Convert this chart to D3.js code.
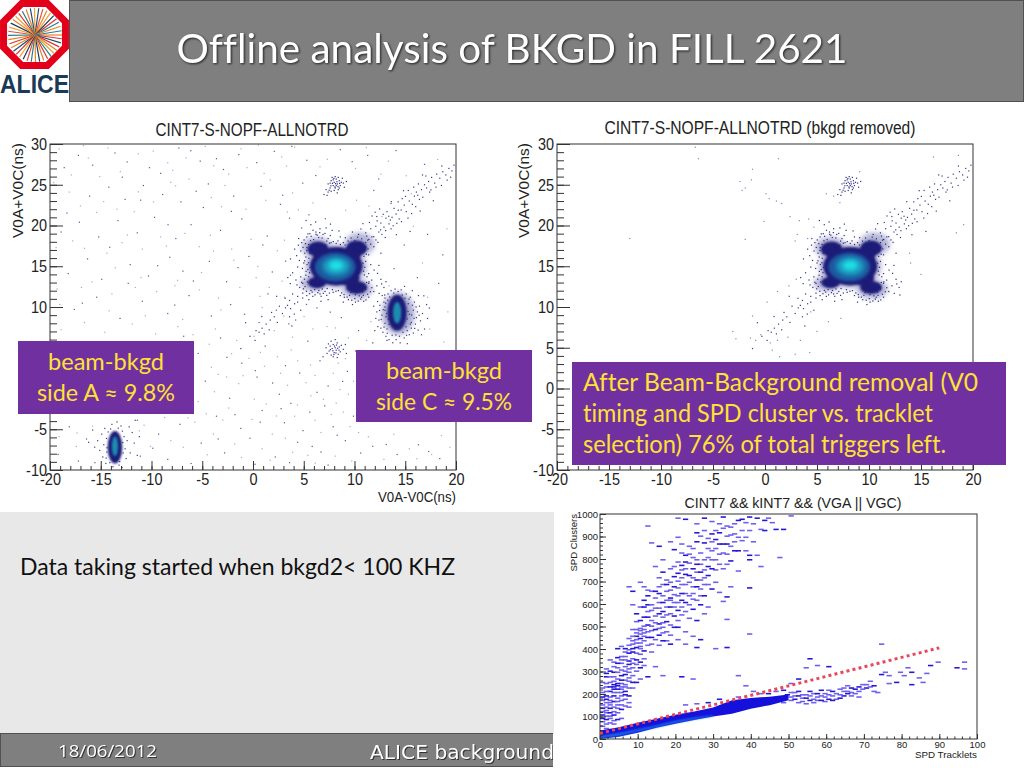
<!DOCTYPE html>
<html><head><meta charset="utf-8">
<script src="https://cdn.jsdelivr.net/npm/d3@7/dist/d3.min.js"></script>
<style>html,body{margin:0;padding:0;background:#fff;overflow:hidden}svg{display:block}
text{font-variant-ligatures:none}
.ax path,.ax line{stroke:#333}.ax text{fill:#222}
</style></head><body><svg id="s" width="1024" height="768"></svg>
<script>
const timingXTicks=[-20,-15,-10,-5,0,5,10,15,20];
const timingYTicks=[-10,-5,0,5,10,15,20,25,30];
const trackletTicks=[0,10,20,30,40,50,60,70,80,90,100];
const clusterTicks=[0,100,200,300,400,500,600,700,800,900,1000];
// density contours: [x, y, spread x, spread y]
const mainHalo=[[8.2,15,3,2.7],[6.3,17.3,1.5,1.3],[10.3,12.2,1.5,1.2],[6,12.9,1.3,1],[10.5,17.7,1.5,1.4]];
const mainDark=[[8.2,15,2.6,2.35],[6.4,17.1,1.05,.95],[10.2,12.4,1.05,.8],[6.3,13,.9,.7],[10.2,17.2,1.05,.95],[7.1,16.3,1.1,1],[9.4,13.6,1.1,1],[7,13.7,1,.9],[9.5,16.3,1.1,1]];
const mainBlue=[[8.1,14.9,2,1.75]];
const mainTeal=[[8.2,15,1.35,1.15]];
const mainCyan=[[8.2,15.1,.72,.6]];
const sideCDark=[[14.2,9.3,.95,2.2]];
const sideCHalo=[[14.3,9.2,1.6,2.6]];
const sideCTeal=[[14.2,9.3,.4,1.3]];
const sideADark=[[-13.6,-7.2,.72,2]];
const sideATeal=[[-13.6,-7.1,.3,1.2]];
const sparseDark=[[-18.6,27.1],[-17.2,28.6],[-15.8,27.4],[-13.6,28.9],[-12.4,27.8],[-10.2,27.1],[-9.1,26.4],[-7.3,29.5],[-5.2,27.9],[-3.6,28.2],[-1.4,28.7],[2.1,29.1],[5.3,28],[8.6,29.3],[11.3,28.6],[14.1,29.2],[16.9,27.5],[-16.1,23.6],[-14.2,24.7],[-12.6,23.2],[-10.8,24.9],[-8.9,23.8],[-7.1,22.9],[-5.6,24.2],[-4.4,25.1],[-1.9,23.6],[.8,24.8],[2.7,22.6],[4.9,25.2],[11.9,24.3],[13.6,22.7],[-18.9,19.2],[-17.1,20.4],[-15.2,18.6],[-13.3,20.6],[-11.4,19.1],[-9.7,21],[-7.6,18.4],[-6.1,20.1],[-3.2,19.4],[-1.1,20.8],[1.4,18.7],[3.6,20.9],[4.8,19.7],[14.9,17.6],[17.2,18.9],[18.7,16.4],[-18.2,14.1],[-16.3,15.9],[-14.9,13.4],[-12.1,15.2],[-10.3,13.8],[-8.2,16.1],[-6.9,14.4],[-4.3,15.6],[-2.6,13.1],[-.4,16.2],[1.9,14.3],[3.7,13.9],[13.9,14.7],[16.2,13.6],[18.3,12.9],[-17.6,9.7],[-15.4,11.2],[-13.1,8.6],[-10.9,10.7],[-8.4,9.2],[-6.3,11.4],[-4.1,8.9],[-2.2,10.3],[.6,8.1],[2.3,9.6],[4.2,8.4],[6.3,9.9],[8.7,8.7],[10.4,7.1],[-5.4,4.3],[-3.2,6.2],[-1.1,3.1],[1.2,5.2],[3.2,2.8],[5.4,5.8],[6.6,3.4],[10.1,4.6],[-4.7,.9],[-2.3,-1.2],[.4,1.4],[2.6,-.7],[4.6,1.9],[7.4,.3],[9.3,2.1],[-3.6,-3.4],[-1.2,-4.9],[.9,-2.7],[3.1,-4.2],[5.6,-2.9],[7.9,-4.7],[9.9,-3.4],[-18.1,-4.7],[-16.4,-6.2],[-11.4,-3.9],[-9.3,-5.6],[-7.2,-4.4],[-5.1,-6.7],[-2.8,-7.9],[-.3,-6.1],[2.2,-8.4],[4.4,-6.6],[6.7,-7.8],[9.1,-6.4],[11.8,-7.1],[14.2,-8.1],[16.3,-6.9],[18.4,-8.6],[-17.2,-8.9],[-11.1,-8.3],[-8.4,-8.7],[-6.1,-9.2],[.2,-9.3],[3.6,-9.1],[7.4,-9.4],
[-12.87,25.93],[-6.13,29.17],[-2.91,26.87],[.37,27.71],[3.83,29.71],[6.19,26.13],[9.77,27.83],[12.39,25.71],[-18.33,21.53],[-11.07,23.11],[-8.37,20.09],[-4.89,22.21],[-2.13,21.73],[2.93,23.71],[5.51,21.31],[7.13,20.83],[-14.11,17.33],[-9.39,15.07],[-5.87,13.19],[-1.47,14.83],[.97,17.61],[3.21,15.63],[-16.81,10.47],[-12.29,12.91],[-7.71,10.23],[-.83,9.11],[1.47,11.61],[3.53,7.93],[5.27,10.31],[7.61,9.37],[-6.83,6.41],[-2.57,3.83],[.23,2.19],[1.93,.67],[3.73,-1.83],[6.31,-.47],[8.83,.87],[-1.77,-3.21],[2.77,-2.47],[4.93,-5.17],[7.07,-2.13],[8.29,-5.73],[-9.87,-7.33],[-3.43,-6.19],[.71,-4.13],[5.83,-7.11],[10.61,-7.91],[13.13,-6.87],[17.31,-7.73],[-19.2,-8.1],[-15.57,-9.1]];
const sparseFaint=[[-19.1,29.4],[-17.9,26.2],[-16.7,29.8],[-15.1,26],[-14.3,29.5],[-11.3,28.8],[-8.4,27.7],[-6.6,28.3],[-4.7,29.7],[-2.4,26.3],[-.6,27.1],[1.1,26.4],[3.3,27.3],[4.1,29.6],[6.6,27.2],[10.1,27],[12.6,26.3],[15.1,26.1],[18.2,28.1],[-18.1,24.1],[-17,22.4],[-15.4,21.6],[-13.4,22],[-11.7,21.7],[-9.8,22.9],[-8.1,25.3],[-6.3,25.7],[-3.1,22.3],[-.7,22],[1.7,25.6],[3.9,24],[10.2,23.1],[12.7,21.1],[15.6,23.9],[-19.4,17.3],[-16.6,17.2],[-14.4,16.6],[-12.9,17.9],[-10.9,17.1],[-9.1,18.6],[-5.3,17.4],[-4.2,18.8],[-2.1,17.1],[-.2,18.3],[2.4,16.9],[3.1,18.2],[15.8,19.9],[16.7,15.4],[19.1,19.6],[-19.3,12.2],[-16.9,12.4],[-13.9,11.6],[-11.6,12.4],[-9.5,11.9],[-7.7,12.6],[-5.3,12.1],[-3.4,11.1],[-1.3,12.4],[.7,11.3],[1.6,12.4],[3.1,11.2],[13.4,12.6],[17.2,11.2],[19.2,9.4],[-18.9,7.2],[-16.6,8.1],[-14.6,6.9],[-11.9,7.9],[-9.6,6.7],[-7.4,7.6],[-5.9,6.6],[-3.7,7.3],[-1.6,5.9],[.1,6.4],[2.1,7.1],[3.9,6.3],[5.9,7.3],[7.3,7.6],[9.4,6.2],[11.2,5.9],[17.4,7.3],[18.8,5.7],[-4.1,2.6],[-2.6,1.4],[-.4,3.7],[2.4,3.9],[4.4,3.4],[6.1,1.6],[8.4,3.1],[9.9,.9],[-5.4,-1.6],[-3.8,-.4],[-1.4,.6],[1.3,-1.9],[3.4,.4],[5.7,-.9],[8.2,-1.8],[9.4,-.7],[-4.6,-3.1],[-2.4,-2.4],[-.1,-3.8],[1.9,-5.6],[4.1,-3.4],[6.7,-5.4],[8.9,-2.9],[-19.1,-5.9],[-17.4,-7.1],[-15.8,-4.6],[-11.2,-5.2],[-10.1,-7.1],[-8.1,-6.4],[-6.4,-3.6],[-3.9,-5.6],[-1.8,-6.8],[.9,-7.4],[3.2,-6.1],[5.4,-8.2],[8.1,-8.3],[10.4,-5.4],[12.9,-8.7],[15.4,-7.4],[17.6,-8.1],[19.4,-7.2],
[-16.23,28.27],[-13.07,26.61],[-9.83,29.13],[-7.91,26.77],[-3.87,27.33],[-1.17,29.41],[.53,29.87],[2.83,28.41],[7.33,28.13],[11.17,29.57],[13.33,27.89],[-19.63,25.27],[-14.71,22.93],[-11.29,24.13],[-7.63,24.87],[-4.11,23.43],[-2.77,24.91],[1.27,23.09],[3.39,21.67],[5.91,22.77],[9.13,21.87],[11.43,22.37],[-17.77,18.11],[-12.37,18.83],[-8.53,17.47],[-6.71,19.03],[-3.89,16.87],[.47,14.97],[2.87,13.17],[4.47,21.93],[-15.87,13.07],[-13.57,14.81],[-11.03,13.61],[-7.43,13.27],[-5.07,14.23],[-1.89,15.73],[.31,13.61],[-19.03,10.31],[-14.17,9.53],[-10.61,8.93],[-6.93,8.47],[-3.17,9.63],[.91,9.93],[3.03,8.89],[5.03,8.83],[8.13,7.43],[11.61,8.21],[12.03,3.4],[-7.13,4.33],[-4.31,5.43],[-2.11,4.27],[.73,4.43],[3.77,4.73],[5.67,2.87],[7.91,1.87],[9.11,3.67],[-6.29,1.93],[-3.43,1.73],[-.97,1.57],[1.13,2.73],[2.71,1.87],[5.23,.71],[6.93,-1.33],[8.57,-.13],[-5.73,-4.13],[-2.97,-3.87],[.13,-1.31],[2.31,-3.37],[4.37,-2.03],[6.11,-3.91],[7.71,-3.19],[9.57,-4.67],[-17.33,-5.47],[-10.73,-4.51],[-8.71,-3.57],[-6.87,-7.21],[-4.51,-8.13],[-1.13,-8.47],[1.69,-8.81],[3.91,-7.83],[6.13,-9.17],[9.73,-8.91],[11.37,-5.93],[13.87,-5.61],[16.13,-8.63],[18.57,-5.77]];
const mainFringe=[[4.8,17.9],[5.1,16.6],[5,15.4],[5.3,18.6],[5.6,19],[6.2,19.2],[6.9,18.9],[7.4,18.4],[7.7,17.9],[8.2,17.8],[8.9,17.9],[9.1,18.5],[4.7,13.7],[4.6,12.4],[4.9,11.7],[5.3,11.4],[5.9,11.3],[6.6,11.6],[7.1,11.9],[7.9,11.8],[8.6,11.4],[9,11.2],[9.4,10.9],[10.1,10.6],[10.9,10.7],[11.4,11.2],[11.9,11.9],[12.2,12.6],[11.7,13.3],[11.4,14.1],[11.6,15.2],[11.4,16.4],[11.9,17.4],[5.4,14.6],[5.2,13.9],[4.4,14.9],[4.3,16.3],[4.5,18.4],[6.6,19.6],[5.7,20.1],[7.8,19.4],[4.9,12.9],[10.7,11.2],[9.8,10.3],[11.1,12.2],[11.4,12.9],[10.9,14.4],[11.1,15.6],[11,16.9],[10.4,18.9],[11.2,18.7],[9.8,19.2],[8.6,18.6],[7.2,19.7],[4.4,11.3],[3.9,11.6],[3.6,10.8],[3.4,10.2],[4.1,10.4],[3.9,14.2],[3.7,15.9],[4.1,17.1],[12.6,13.4],[12.9,12.4],[13.1,13.1],[12.4,15.1],[12.6,16.6],[5.5,10.9],[6.7,10.7],[7.4,10.9],[8.9,10.6],
[4.93,17.31],[5.17,17.77],[5.03,18.23],[5.29,16.91],[5.41,18.97],[5.73,18.67],[5.91,19.41],[6.33,18.81],[6.57,19.13],[6.81,18.47],[7.09,19.03],[7.27,18.09],[7.53,17.83],[7.19,17.57],[7.61,18.77],[5.21,16.13],[5.09,15.67],[5.33,15.21],[4.87,14.73],[5.23,14.37],[5.07,13.41],[5.37,13.07],[4.79,13.03],[5.13,12.51],[4.97,12.23],[5.27,11.93],[5.57,11.63],[5.83,11.83],[6.11,11.49],[6.39,11.77],[6.71,11.31],[6.93,11.67],[7.27,11.43],[7.53,11.71],[7.83,12.13],[8.17,11.93],[8.41,12.01],[8.73,11.73],[8.97,11.53],[9.27,11.21],[9.51,11.43],[9.73,10.83],[10.03,11.03],[10.37,10.73],[10.61,10.97],[10.87,11.43],[11.13,10.87],[11.29,11.57],[11.57,11.87],[11.71,12.37],[11.43,13.09],[11.23,13.71],[10.97,13.93],[11.01,14.87],[10.83,15.37],[10.93,16.21],[11.17,16.47],[11.33,17.13],[11.59,17.71],[11.41,18.29],[11.11,17.91],[10.71,18.37],[10.31,18.57],[10.03,18.13],[9.67,18.47],[9.37,18.09],[9.07,17.61],[8.61,17.67],[8.37,18.11],[7.91,18.03],[6.47,18.53],[6.21,18.91],[5.97,18.27],[5.67,18.13],[5.49,17.67],[5.31,17.29],[5.61,16.61],[5.51,15.97],[5.47,15.43],[5.63,14.87],[5.57,14.21],[5.49,13.71],[5.71,12.03],[6.07,12.13],[6.49,12.03],[6.83,12.21],[7.31,12.27],[9.63,11.77],[10.09,11.51],[10.47,11.37],[10.81,11.83],[11.03,12.41],[11.19,13.01],[11.09,17.33],[11.71,18.61],[12.11,18.23],[12.31,17.93],[4.57,15.71],[4.71,16.87],[4.47,17.59],[4.23,13.31],[4.33,12.71],[12.43,11.67],[12.67,12.83],[6.17,20.43],[5.23,20.61],[7.63,20.17],[8.47,19.33],[3.67,12.87],[3.43,13.61],[12.97,11.47],[11.93,14.53],[12.27,14.13]];
const diagonalUp=[[11.1,19.1],[11.6,19.6],[11.3,18.2],[12.1,19.9],[12.4,19.2],[12.6,20.3],[13.1,20.9],[12.9,19.8],[13.4,20.2],[13.7,21],[12.7,18.9],[13.6,19.6],[14.1,21.4],[14.4,20.8],[13.9,22.1],[14.6,21.9],[14.9,22.5],[15.1,21.7],[15.4,23],[14.7,23.3],[15.7,22.6],[15.9,23.6],[16.1,24.1],[16.4,23.2],[16.6,24.4],[16.9,25],[16.3,25.1],[17.1,24.6],[17.3,25.4],[17.6,25.9],[17.9,25.2],[18.1,26.3],[18.4,25.8],[18.7,26.6],[19,26.2],[19.3,27],[19.6,26.7],[19.8,27.4],[17.4,24.1],[15.3,24.3],[13.2,21.7],[12.2,21.1],[14.3,22.9],[16.7,26.2],[18.6,27.3],
[11.47,20.37],[11.89,18.63],[12.23,20.57],[12.57,19.47],[12.83,21.37],[13.07,19.37],[13.37,21.13],[13.53,20.67],[13.81,19.97],[14.17,20.27],[14.31,21.87],[14.63,20.47],[13.03,18.53],[12.03,21.63],[15.27,20.91],[15.63,21.47],[15.03,23.57],[16.03,22.31],[16.23,23.71],[16.73,23.47],[15.83,24.71],[17.03,26.07],[17.53,24.37],[18.03,24.71],[18.57,24.91],[19.13,25.57],[19.47,25.93],[14.83,24.27],[13.63,22.93],[12.47,22.03],[10.83,20.23],[10.63,19.57],[11.73,21.17],[16.47,21.77],[17.77,23.03],[15.47,19.27],[14.13,18.87]];
const diagonalDown=[[4.9,11.1],[4.4,10.6],[3.7,9.8],[3.2,9.9],[2.9,9.2],[2.6,10.1],[2.1,8.8],[2.4,8.1],[1.7,8.4],[1.3,7.9],[1.6,7.2],[.9,7.4],[.6,6.9],[1.1,6.7],[.3,7.1],[3.6,8.8],[4.7,9.6],[.2,5.9],[-.3,6.4],[-1.2,4.9],[1.83,9.33],[3.17,11.07],[2.33,11.31],[.87,8.83],[-.73,8.07],[4.07,9.13],[3.83,7.67]];
const clumpTop=[[7.4,25.1],[7.6,24.6],[7.7,25.5],[7.9,24.9],[8,25.3],[8.1,24.6],[8.2,25.7],[8.3,25.1],[8.4,24.4],[8.5,25.5],[8.6,24.9],[8.7,25.3],[7.8,25.9],[8.1,26],[8.4,25.9],[8.9,25.2],[9,24.7],[7.2,24.4],[7.4,24.1],[7.7,24.2],[8,24.3],[8.8,25.8],[9.2,25.4],[7,23.8],[7.3,23.7],[8.3,24],[7.9,25.6],[8.2,24.9],[8.5,24.6],[7.6,25.2],[7.83,25.17],[8.07,24.73],[8.27,25.37],[8.13,25.13],[7.97,25.77],[8.37,24.77],[7.67,24.87],[8.53,25.17],[7.51,24.33]];
const clumpBottom=[[7.5,4.6],[7.6,5.2],[7.7,4.1],[7.8,4.9],[7.9,5.4],[8,4.4],[8.1,5],[8.2,4.7],[8.3,5.6],[8.4,4.2],[8.5,5.1],[8.6,4.5],[8.7,5.3],[8.9,4.8],[7.3,4.3],[7.2,5],[7.9,3.9],[8.3,3.8],[8.1,6],[7.7,5.8],[9.1,5.4],[9.2,4.3],[6.9,3.9],[7.87,4.63],[8.03,5.21],[8.17,4.37],[8.33,4.93],[7.63,4.77],[8.47,4.71],[7.97,4.17],[8.23,5.33],[7.43,5.47]];
const sideCFringe=[[12.2,9.4],[12.4,8.4],[12.5,10.2],[12.6,7.4],[12.7,9],[12.8,6.9],[12.9,10.6],[13,8],[13,11.1],[13.1,6.4],[12.3,7.6],[12.1,8.6],[13.2,5.9],[13.3,11.6],[13.6,12],[13.4,6],[14,12.2],[14.3,11.9],[14.6,12.1],[14.1,6],[14.5,5.6],[14.9,6.2],[15.2,5.5],[15.4,6.6],[15.6,7.4],[15.8,6.8],[15.6,8.1],[16,7.9],[16.1,8.7],[15.8,9.6],[16.2,9.4],[16.4,10.1],[15.9,10.6],[15.5,11.2],[15.1,11.6],[16.5,8.3],[16.7,9.2],[16.9,7.3],[16.6,6.6],[17.1,10.3],[16.3,11.4],[15.7,12],[15.3,10.4],[15.4,9.1],[15.5,7.9],[15.2,7.1],[13,9.6],[13.1,8.8],[13.2,7.3],[13,10],[17.2,8.6],[11.9,10.1],[12,7.1],[11.8,5.6],
[12.63,8.47],[12.83,9.67],[12.91,7.53],[13.07,10.47],[13.17,9.21],[13.23,6.77],[13.27,10.83],[13.41,7.87],[13.33,8.51],[13.47,11.23],[13.71,6.53],[13.87,11.71],[14.07,6.57],[14.43,6.41],[14.77,6.89],[14.97,11.07],[14.71,11.47],[15.07,7.57],[15.19,8.53],[15.27,9.47],[15.37,10.97],[15.13,6.53],[15.63,9.01],[15.71,10.21],[15.87,8.61],[15.93,7.37],[16.07,10.01],[16.27,7.17],[16.37,8.99],[12.47,9.57],[12.27,10.67],[12.73,11.41],[14.93,12.53],[13.77,5.61],[16.83,11.37],[17.37,9.87]];
const sideAFringe=[[-15.3,-6.4],[-15.1,-7.6],[-14.9,-5.6],[-14.8,-8.4],[-14.7,-6.9],[-14.6,-4.9],[-14.5,-9.2],[-14.4,-7.8],[-12.7,-5.9],[-12.6,-7.4],[-12.5,-8.6],[-12.4,-6.4],[-12.2,-4.7],[-12.1,-7.9],[-11.9,-5.4],[-11.7,-6.7],[-11.6,-3.9],[-11.4,-8.2],[-13.9,-4.4],[-13.4,-4.1],[-13,-4.6],[-13.8,-9.6],[-13.2,-9.4],[-15.6,-7.2],[-15.8,-5.1],[-16.2,-6.6],[-11.2,-5.9],[-12.9,-9.7],[-14.1,-9.1],[-14.43,-6.13],[-14.37,-7.27],[-14.47,-8.53],[-12.83,-6.63],[-12.79,-7.91],[-12.87,-5.23],[-14.27,-5.33],[-13.13,-8.97],[-14.03,-4.97],[-13.27,-4.87]];
const removedSparse=[[-6.7,29.6],[-6.4,28.2],[1.3,28.2],[5.9,23.9],[-2.4,25.4],[-1.3,25.6],[-1.9,24.6],[-2.2,24.3],[-1.2,26.9],[.1,23.9],[.4,23.3],[1.1,23],[1.6,22.7],[-.1,20.5],[2.4,21.1],[3.3,20.6],[4.2,20.8],[4.7,19.8],[3.1,18.9],[-13,18.4],[-1.9,18.3],[2.9,18.1],[4.1,18.4],[6.6,23.6],[7.2,22.8],[9.1,26.6],[16.2,28.4],[18.6,28.6],[19.1,20.1],[18.4,19.1],[-3.1,7],[-2.8,6.1],[-1.4,6.2],[-.9,5.9],[-.4,6.6],[.5,5.6],[1.2,5.9],[2.2,6.3],[3.4,5.9],[5,7],[6.1,8.2],[.7,4.7],[2.9,4.2],[4.3,4.4],[1.4,3.9],[-1.2,8.9],[.2,10.6],[1.2,11.9],[2.3,12.6],[3,13.4],[4.4,9.4],[7.3,8.6],[15,14],[14,15.4],[13.9,16.6]];
const upperBranch=[[1,280],[0,255],[1,235],[2,215],[2,190],[1,165],[0,140],[1,120],[2,105],[0,95],[3,85],[1,70],[4,240],[5,225],[6,245],[3,235],[7,230],[5,210],[3,195],[4,185],[6,180],[3,170],[5,155],[7,145],[2,140],[4,120],[1,315],[3,300],[2,355],[3,345],[4,365],[5,340],[6,325],[7,350],[5,370],[6,390],[4,405],[5,415],[7,420],[8,405],[9,385],[8,360],[10,345],[11,330],[9,305],[6,290],[8,285],[10,270],[12,280],[4,270],[7,260],[9,255],[14,325],[16,285],[21,280],[24,270],[8,440],[9,460],[10,430],[11,475],[12,455],[8,490],[10,495],[12,510],[13,485],[14,445],[15,465],[16,500],[17,440],[18,425],[20,445],[22,425],[25,410],[30,405],[9,525],[11,545],[13,530],[14,550],[15,515],[16,545],[18,510],[20,500],[22,480],[24,460],[26,445],[8,600],[10,590],[12,600],[13,575],[15,610],[16,570],[17,590],[18,620],[19,550],[21,555],[23,540],[25,530],[27,560],[7,680],[8,660],[10,700],[11,680],[12,640],[13,660],[14,630],[15,650],[16,690],[17,660],[18,630],[19,645],[20,610],[21,620],[22,650],[24,625],[26,600],[28,590],[32,615],[33,635],[14,770],[15,720],[16,745],[17,710],[18,760],[19,725],[20,705],[21,755],[22,735],[23,700],[24,680],[25,710],[26,670],[27,690],[29,670],[31,655],[34,680],[39,675],[12,950],[13,875],[15,860],[16,800],[18,880],[19,845],[20,900],[21,830],[22,790],[23,860],[24,810],[25,920],[26,780],[27,755],[28,730],[29,840],[30,800],[31,870],[32,760],[33,825],[34,795],[36,750],[25,960],[27,985],[29,970],[30,930],[32,990],[33,950],[35,915],[36,975],[37,885],[38,840],[39,990],[40,960],[41,820],[43,930],[45,965],[47,810],[48,935],[50,995],[42,770],[39,800],[33,905],[20,985],[22,980],[28,895],[34,860],[43,975],[30,755],[39,470],[33,410],[36,285],[33,535],[25,780],
[0,175],[0,210],[1,195],[1,145],[2,255],[2,305],[2,165],[3,260],[3,225],[3,145],[4,210],[4,225],[4,155],[4,300],[4,340],[5,250],[5,195],[5,285],[5,310],[6,265],[6,215],[6,355],[6,370],[7,195],[7,300],[7,315],[7,385],[8,230],[8,320],[8,390],[8,425],[9,335],[9,410],[9,430],[9,490],[10,320],[10,380],[10,405],[10,450],[10,470],[11,360],[11,395],[11,440],[11,505],[11,590],[12,420],[12,480],[12,545],[13,390],[13,425],[13,455],[13,505],[13,600],[14,490],[14,520],[14,585],[14,660],[15,420],[15,495],[15,560],[15,585],[15,680],[16,440],[16,475],[16,520],[16,610],[16,640],[17,480],[17,525],[17,555],[17,620],[17,690],[18,465],[18,560],[18,590],[18,665],[18,700],[19,500],[19,590],[19,610],[19,680],[19,770],[20,530],[20,575],[20,640],[20,675],[20,740],[20,790],[21,590],[21,650],[21,690],[21,720],[21,775],[21,870],[22,570],[22,610],[22,690],[22,760],[22,820],[23,600],[23,640],[23,730],[23,785],[23,825],[24,580],[24,650],[24,720],[24,760],[24,850],[25,620],[25,680],[25,745],[25,800],[25,880],[26,640],[26,710],[26,745],[26,830],[26,905],[27,640],[27,720],[27,800],[27,875],[27,930],[28,690],[28,770],[28,810],[28,850],[29,760],[29,800],[29,880],[29,915],[30,700],[30,850],[30,890],[31,780],[31,825],[31,920],[31,960],[32,830],[32,870],[32,940],[33,780],[33,870],[34,910],[34,945],[35,840],[35,880],[35,960],[36,840],[36,900],[37,930],[37,980],[38,900],[38,965],[39,820],[39,930],[40,880],[41,985],[42,935],[44,985],[46,935],
[0,60],[0,80],[0,110],[0,125],[0,155],[0,190],[0,230],[1,50],[1,90],[1,105],[1,130],[1,180],[1,215],[1,250],[1,295],[2,75],[2,95],[2,120],[2,155],[2,175],[2,235],[2,280],[3,70],[3,110],[3,125],[3,210],[3,245],[3,280],[3,325],[4,90],[4,140],[4,170],[4,250],[4,320],[5,95],[5,135],[5,175],[5,235],[5,265],[5,355],[6,150],[6,200],[6,235],[6,305],[6,405],[7,165],[7,275],[7,335],[7,400],[7,450],[8,255],[8,340],[8,460],[9,355],[9,445],[9,475],[9,560],[10,415],[10,485],[10,530],[11,460],[11,490],[11,620],[12,570],[12,665]];
const tailDashes=[[48,220],[50,210],[51,195],[52,215],[53,185],[54,200],[55,175],[56,205],[57,190],[58,220],[59,170],[60,200],[61,215],[62,180],[63,225],[64,195],[65,240],[66,210],[67,225],[68,190],[69,245],[70,230],[71,260],[72,215],[74,290],[75,300],[76,250],[78,255],[80,285],[81,320],[82,300],[84,275],[86,295],[87,330],[76,285],[71,235],[55,360],[57,330],[54,320],[60,325],[74,425],[79,300],[82,245],[85,255],[89,345],[94,320],[96,345],[96,315],[52,270],[50,250],[46,215],[44,205],[40,215],[38,240],[28,165],[25,160],[22,155],[31,180],[36,190],[42,205],
[46,175],[47,190],[48,165],[49,200],[50,175],[50,190],[51,180],[51,210],[52,165],[52,195],[53,200],[53,170],[54,185],[54,160],[55,195],[55,215],[56,180],[56,165],[57,205],[57,175],[58,195],[58,175],[59,205],[59,190],[60,180],[60,220],[61,195],[61,175],[62,205],[63,200],[63,185],[64,215],[64,230],[65,205],[65,215],[66,195],[66,230],[67,205],[68,215],[68,235],[69,225],[70,245],[72,240],[73,210]];
const bandTracklets=[0,5,10,15,20,25,30,35,40,45,50];
const bandLow=[0,10,28,50,68,85,100,112,135,150,172];
const bandHigh=[38,52,72,90,108,122,140,172,182,188,198];
const coreLow=[3,16,34,52,72,88,100];
const coreHigh=[12,26,42,60,80,95,105];
const cutLine=[[0,25],[90,405]];
const logoRays=[[0,"#e8822a"],[8,"#d8352a"],[17,"#1f4e6b"],[26,"#d8352a"],[35,"#e8822a"],[44,"#e9a23b"],[53,"#2a7c8c"],[62,"#d8352a"],[71,"#e8822a"],[80,"#1b3a57"],[89,"#e8822a"],[98,"#2a7c8c"],[107,"#e94f37"],[116,"#1b3a57"],[125,"#e9a23b"],[134,"#d8352a"],[143,"#1f4e6b"],[152,"#e8822a"],[161,"#d8352a"],[170,"#e8822a"],[179,"#2a7c8c"],[188,"#e94f37"],[197,"#e9a23b"],[206,"#1b3a57"],[215,"#e8822a"],[224,"#e9a23b"],[233,"#d8352a"],[242,"#2a7c8c"],[251,"#e8822a"],[260,"#1f4e6b"],[269,"#e9a23b"],[278,"#1f4e6b"],[287,"#e94f37"],[296,"#e8822a"],[305,"#e9a23b"],[314,"#1b3a57"],[323,"#d8352a"],[332,"#2a7c8c"],[341,"#e8822a"],[351,"#2a7c8c"]];

const svg=d3.select("#s");
const defs=svg.append("defs");
[["b1",.8],["b2",1.6],["b3",2.2],["b4",2.4]].forEach(([id,d])=>defs.append("filter").attr("id",id).attr("x","-40%").attr("y","-40%").attr("width","180%").attr("height","180%").append("feGaussianBlur").attr("stdDeviation",d));
defs.append("clipPath").attr("id","footClip").append("rect").attr("x",0).attr("y",733).attr("width",553).attr("height",35);

const CAL='Lato,"Open Sans",sans-serif', ARI='"Liberation Sans",Arial,sans-serif';
function label(g,t,x,y,o){
  const e=g.append("text").attr("x",x).attr("y",y).attr("font-family",o.font||CAL).attr("font-size",o.size).attr("fill",o.fill||"#222").attr("text-anchor",o.anchor||"start").text(t);
  if(o.len) e.attr("textLength",o.len).attr("lengthAdjust","spacingAndGlyphs");
  if(o.shadow) e.style("filter",o.shadow);
  return e;
}
// slide frame
svg.append("rect").attr("x",69.5).attr("y",.5).attr("width",954).attr("height",101).attr("fill","#7f7f7f").attr("stroke","#505050");
label(svg,"Offline analysis of BKGD in FILL 2621",512,63,{size:40,anchor:"middle",len:671,fill:"#fff",shadow:"drop-shadow(1.5px 1.5px 1px #222)"});
svg.append("rect").attr("x",0).attr("y",512).attr("width",554).attr("height",222).attr("fill","#e8e8e8");
label(svg,"Data taking started when bkgd2< 100 KHZ",20,575,{size:23.5,len:435,fill:"#111"});
const foot=svg.append("g").attr("clip-path","url(#footClip)");
foot.append("rect").attr("x",.5).attr("y",733.5).attr("width",1023).attr("height",33).attr("fill","#7f7f7f").attr("stroke","#505050");
label(foot,"18/06/2012",58,757,{font:"'Open Sans',sans-serif",size:16,len:99,fill:"#fff",shadow:"drop-shadow(1px 1px .6px #333)"});
label(foot,"ALICE background",370,759,{font:"'DejaVu Sans',sans-serif",size:19,len:184,fill:"#fff",shadow:"drop-shadow(1px 1px .6px #333)"});

// logo
const logo=svg.append("g");
logo.append("rect").attr("width",69).attr("height",101).attr("fill","#fff");
const ang=d3.range(8).map(i=>Math.PI/8+i*Math.PI/4);
logo.append("polygon").attr("points",ang.map(a=>[34.5+33.5*Math.cos(a),34.5+33.5*Math.sin(a)].join(",")).join(" ")).attr("fill","#fff").attr("stroke","#e2001a").attr("stroke-width",7);
logo.selectAll("line").data(logoRays).join("line").attr("x1",35).attr("y1",35).attr("x2",d=>35+27*Math.cos(d[0]*Math.PI/180)).attr("y2",d=>35+27*Math.sin(d[0]*Math.PI/180)).attr("stroke",d=>d[1]).attr("stroke-width",1.2);
label(logo,"ALICE",0,93,{font:ARI,size:26,len:69,fill:"#1b3a57"}).attr("font-weight","bold");

function frame(g,x,y,xt,yt,cfg){
  g.append("rect").attr("x",x.range()[0]).attr("y",y.range()[1]).attr("width",x.range()[1]-x.range()[0]).attr("height",y.range()[0]-y.range()[1]).attr("fill","none").attr("stroke","#333");
  const mk=(gen,tr)=>g.append("g").attr("class","ax").attr("transform",tr).call(gen);
  const b=`translate(0,${y.range()[0]})`, l=`translate(${x.range()[0]},0)`;
  const a1=mk(d3.axisBottom(x).tickValues(cfg.xMinor).tickSize(-cfg.minorX).tickFormat(""),b);
  const a2=mk(d3.axisBottom(x).tickValues(xt).tickSize(-cfg.majorX).tickPadding(cfg.padX).tickFormat(String),b);
  const a3=mk(d3.axisLeft(y).tickValues(cfg.yMinor).tickSize(-cfg.minorY).tickFormat(""),l);
  const a4=mk(d3.axisLeft(y).tickValues(yt).tickSize(-cfg.majorY).tickPadding(cfg.padY).tickFormat(String),l);
  [a1,a2,a3,a4].forEach(a=>{a.select(".domain").remove();a.selectAll("text").attr("font-size",cfg.font).attr("font-family",ARI)
    .each(function(){const w=this.getComputedTextLength();if(w>0)d3.select(this).attr("textLength",w*cfg.squeeze).attr("lengthAdjust","spacingAndGlyphs");});});
}
function dots(g,x,y,data,color,op){
  g.append("g").selectAll("rect").data(data).join("rect").attr("x",d=>x(d[0])-.6).attr("y",d=>y(d[1])-.6).attr("width",1.2).attr("height",1.2).attr("fill",color).attr("opacity",op);
}
function blobs(g,x,y,data,color,f,op){
  g.append("g").attr("filter",`url(#${f})`).attr("opacity",op||1).selectAll("ellipse").data(data).join("ellipse")
   .attr("cx",d=>x(d[0])).attr("cy",d=>y(d[1])).attr("rx",d=>x(d[0]+d[2])-x(d[0])).attr("ry",d=>y(d[1])-y(d[1]+d[3])).attr("fill",color);
}
const minorT=d3.range(-20,21), minorY=d3.range(-10,31);
const cfgT={xMinor:minorT,yMinor:minorY,minorX:4,majorX:9,minorY:7,majorY:13,padX:3,padY:3,font:17,squeeze:.85};
function timing(x0,x1,titleTxt,titleX,titleY,titleLen,yTitleX,removed){
  const g=svg.append("g");
  const x=d3.scaleLinear().domain([-20,20]).range([x0,x1]);
  const y=d3.scaleLinear().domain([-10,30]).range([470,144]);
  if(!removed){dots(g,x,y,sparseFaint,"#8e8cb8",.75);dots(g,x,y,sparseDark,"#3a3a8c",.85);
    blobs(g,x,y,sideCHalo,"#2b2a88","b4",.4);
    dots(g,x,y,sideCFringe,"#23237f",.9);dots(g,x,y,sideAFringe,"#23237f",.9);dots(g,x,y,clumpBottom,"#23237f",.9);
    blobs(g,x,y,sideCDark,"#1c1a78","b1");blobs(g,x,y,sideCTeal,"#1c8db0","b1");
    blobs(g,x,y,sideADark,"#1c1a78","b1");blobs(g,x,y,sideATeal,"#1c8db0","b1");
  } else dots(g,x,y,removedSparse,"#6c6ca6",.8);
  blobs(g,x,y,mainHalo,"#2b2a88","b4",.35);
  dots(g,x,y,mainFringe,"#23237f",.95);dots(g,x,y,diagonalUp,"#23237f",.9);dots(g,x,y,diagonalDown,"#23237f",.9);dots(g,x,y,clumpTop,"#23237f",.95);
  blobs(g,x,y,mainDark,"#1c1a78","b1");blobs(g,x,y,mainBlue,"#1f5aa0","b2");blobs(g,x,y,mainTeal,"#1c9cc0","b3");blobs(g,x,y,mainCyan,"#1ee0e4","b3");
  frame(g,x,y,timingXTicks,timingYTicks,cfgT);
  label(g,titleTxt,titleX,titleY,{font:ARI,size:17.5,anchor:"middle",len:titleLen});
  g.append("text").attr("transform",`translate(${yTitleX},143) rotate(-90)`).attr("text-anchor","end").attr("font-family",ARI).attr("font-size",15.5).attr("textLength",95).attr("lengthAdjust","spacingAndGlyphs").attr("fill","#222").text("V0A+V0C(ns)");
  if(!removed) label(g,"V0A-V0C(ns)",x1,502,{font:ARI,size:15.5,anchor:"end",len:78});
}
timing(50,456,"CINT7-S-NOPF-ALLNOTRD",252,136,193,23,false);
timing(557,973,"CINT7-S-NOPF-ALLNOTRD (bkgd removed)",760,134,311,529,true);

function note(x,y,w,h,lines,anchor,tx,bases,size,lens){
  svg.append("rect").attr("x",x).attr("y",y).attr("width",w).attr("height",h).attr("fill","#7030a0");
  lines.forEach((t,i)=>label(svg,t,tx,bases[i],{size,anchor,fill:"#ffe135",len:lens[i]}));
}
note(18,341,176,73,["beam-bkgd","side A ≈ 9.8%"],"middle",106,[370,401],24,[116,138]);
note(356,350,176,72,["beam-bkgd","side C ≈ 9.5%"],"middle",444,[379,410],24,[116,136]);
note(572,362,434,103,["After Beam-Background removal (V0","timing and SPD cluster vs. tracklet","selection) 76% of total triggers left."],"start",583,[391,422,453],24.5,[395,350,363]);

// tracklet plot
const pg=svg.append("g");
pg.append("rect").attr("x",554).attr("y",512).attr("width",470).attr("height",256).attr("fill","#fff");
const px=d3.scaleLinear().domain([0,100]).range([600,977]);
const py=d3.scaleLinear().domain([0,1000]).range([739,514]);
const dashW=px(1.4)-px(0),dashH=py(0)-py(7);
[upperBranch,tailDashes].forEach(set=>pg.append("g").selectAll("rect").data(set).join("rect").attr("x",d=>px(d[0])).attr("y",d=>py(d[1])).attr("width",dashW).attr("height",dashH).attr("fill",(d,i)=>i%3==0?"#2418d8":"#6f5ff0"));
const band=d3.area().x((d,i)=>px(bandTracklets[i])).y0((d,i)=>py(bandLow[i])).y1((d,i)=>py(bandHigh[i]));
pg.append("path").attr("d",band(bandTracklets)).attr("fill","#1510dc");
const core=d3.area().x((d,i)=>px(bandTracklets[i])).y0((d,i)=>py(coreLow[i])).y1((d,i)=>py(coreHigh[i]));
pg.append("path").attr("d",core(coreLow)).attr("fill","#1a8ae8").attr("filter","url(#b1)");
frame(pg,px,py,trackletTicks,clusterTicks,{xMinor:d3.range(0,101,2),yMinor:d3.range(0,1001,20),minorX:2.5,majorX:5,minorY:3,majorY:6,padX:2,padY:2,font:9.5,squeeze:1});
pg.append("path").attr("d",d3.line().x(d=>px(d[0])).y(d=>py(d[1]))(cutLine)).attr("stroke","#e8465a").attr("stroke-width",3).attr("stroke-dasharray","3 3.2").attr("fill","none");
label(pg,"CINT7 && kINT7 && (VGA || VGC)",793,508,{font:ARI,size:14.2,anchor:"middle",len:217});
label(pg,"SPD Tracklets",977,758,{font:ARI,size:9.8,anchor:"end"});
pg.append("text").attr("transform","translate(577,514) rotate(-90)").attr("text-anchor","end").attr("font-family",ARI).attr("font-size",9.6).attr("fill","#222").text("SPD Clusters");
</script></body></html>
